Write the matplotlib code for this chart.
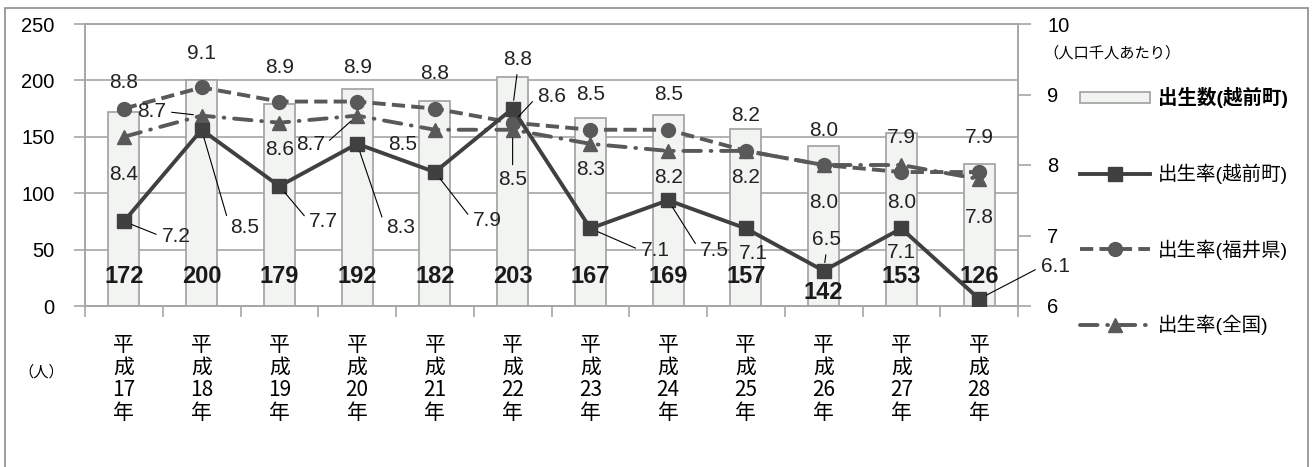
import matplotlib.pyplot as plt
from matplotlib.patches import Patch, Rectangle
from matplotlib.lines import Line2D

plt.rcParams['font.family'] = ['Liberation Sans', 'Noto Sans CJK JP', 'DejaVu Sans']

# data
years = ['17', '18', '19', '20', '21', '22', '23', '24', '25', '26', '27', '28']
births = [172, 200, 179, 192, 182, 203, 167, 169, 157, 142, 153, 126]
rate_town = [7.2, 8.5, 7.7, 8.3, 7.9, 8.8, 7.1, 7.5, 7.1, 6.5, 7.1, 6.1]
rate_pref = [8.8, 9.1, 8.9, 8.9, 8.8, 8.6, 8.5, 8.5, 8.2, 8.0, 7.9, 7.9]
rate_nation = [8.4, 8.7, 8.6, 8.7, 8.5, 8.5, 8.3, 8.2, 8.2, 8.0, 8.0, 7.8]

# label placement (pixel offsets from the marker, leader line yes/no)
off_pref = [(0, 26), (0, 34), (0, 34), (0, 34), (0, 35), (39, 26),
            (0, 35), (0, 35), (0, 35), (0, 35), (0, 35), (0, 35)]
lead_pref = [0, 0, 0, 0, 0, 1, 0, 0, 0, 0, 0, 0]
off_nation = [(0, -38), (-50, 4), (0, -27), (-47, -29), (-32, -15), (0, -50),
              (0, -26), (0, -27), (0, -27), (0, -37), (0, -37), (0, -38)]
lead_nation = [0, 1, 0, 1, 0, 1, 0, 0, 0, 0, 0, 0]
off_town = [(52, -15), (43, -98), (44, -35), (43, -84), (52, -48), (5, 49),
            (65, -22), (46, -50), (7, -25), (3, 31), (0, -24), (76, 32)]
lead_town = [1, 1, 1, 1, 1, 1, 1, 1, 0, 1, 0, 1]
count_y = [26, 26, 26, 26, 26, 26, 26, 26, 26, 12, 26, 26]

GRID = '#a6a6a6'
W, H = 1312, 467


def label_series(ax, vals, offsets, leaders):
    for i, (v, (dx, dy), ld) in enumerate(zip(vals, offsets, leaders)):
        kw = {}
        if ld:
            if abs(dx) > 20:
                rp = (0, 0.5) if dx > 0 else (1, 0.5)
            else:
                rp = (0.5, 0) if dy > 0 else (0.5, 1)
            kw['arrowprops'] = dict(arrowstyle='-', color='black', lw=0.8,
                                    shrinkA=2, shrinkB=6, relpos=rp)
        ax.annotate(f'{v:.1f}', (i, v), xytext=(dx, dy), textcoords='offset pixels',
                    ha='center', va='center', fontsize=15, color='#222222',
                    zorder=10, **kw)


fig = plt.figure(figsize=(W / 100, H / 100), dpi=100)
ax = fig.add_axes([85 / W, 1 - 306 / H, (1018 - 85) / W, (306 - 24) / H])
ax2 = ax.twinx()

x = list(range(len(years)))
ax.bar(x, births, width=0.4, color='#f2f4f2', edgecolor='#a0a0a0', lw=1.2, zorder=2)
ax.set_ylim(0, 250)
ax.set_xlim(-0.5, len(years) - 0.5)
ax.set_yticks(range(0, 251, 50))
ax.grid(axis='y', color=GRID, lw=1.2)
ax.set_axisbelow(True)
ax.set_xticks(x)
ax.set_xticklabels([f'平\n成\n{y}\n年' for y in years], fontsize=15, linespacing=1.05,
                   family=['Liberation Sans Narrow', 'Noto Sans CJK JP'], va='top')
ax.set_xticks([i - 0.5 for i in range(len(years) + 1)], minor=True)
ax.tick_params(axis='x', which='major', length=0, pad=20)
ax.tick_params(axis='x', which='minor', length=8, color=GRID, width=1.2)
ax.tick_params(axis='y', length=8, color=GRID, width=1.2, labelsize=14.5, pad=14)

for i, (c, cy) in enumerate(zip(births, count_y)):
    ax.text(i, cy, str(c), ha='center', va='center', fontsize=17, fontweight='bold',
            family=['Liberation Sans Narrow', 'Liberation Sans'], color='#1a1a1a', zorder=5)

ax2.plot(x, rate_pref, color='#595959', lw=2.8, ls=(0, (3.4, 1.6)), marker='o', ms=10, zorder=3)
ax2.plot(x, rate_nation, color='#595959', lw=2.8, ls=(0, (4.5, 2.5, 0.2, 2.5)),
         dash_capstyle='round', marker='^', ms=10, zorder=3)
ax2.plot(x, rate_town, color='#404040', lw=2.8, marker='s', ms=10, zorder=4)
ax2.set_ylim(6, 10)
ax2.set_yticks(range(6, 11))
ax2.tick_params(axis='y', length=9, color=GRID, width=1.2, labelsize=14.5, pad=12)

label_series(ax2, rate_pref, off_pref, lead_pref)
label_series(ax2, rate_nation, off_nation, lead_nation)
label_series(ax2, rate_town, off_town, lead_town)

for a in (ax, ax2):
    for s in a.spines.values():
        s.set_color(GRID)
        s.set_linewidth(1.2)

fig.text(1043 / W, 1 - 53 / H, '（人口千人あたり）', fontsize=11, va='center', ha='left')
fig.text(41 / W, 1 - 372 / H, '（人）', fontsize=11, va='center', ha='center')

handles = [
    Patch(facecolor='#f2f4f2', edgecolor='#a0a0a0', lw=1.2),
    Line2D([], [], color='#404040', lw=2.8, marker='s', ms=10),
    Line2D([], [], color='#595959', lw=2.8, ls=(0, (3.4, 1.6)), marker='o', ms=10),
    Line2D([], [], color='#595959', lw=2.8, ls=(0, (4.5, 2.5, 0.2, 2.5)),
           dash_capstyle='round', marker='^', ms=10),
]
labels = ['出生数(越前町)', '出生率(越前町)', '出生率(福井県)', '出生率(全国)']
leg = fig.legend(handles, labels, loc='upper left', bbox_to_anchor=(1080 / W, 1 - 87 / H),
                 frameon=False, fontsize=14, handlelength=3.6, handletextpad=0.4,
                 labelspacing=2.85, borderpad=0, borderaxespad=0, numpoints=1,
                 handleheight=0.5)
leg.get_texts()[0].set_fontweight('bold')

fig.patches.append(Rectangle((5 / W, -0.1), (1308 - 5) / W, 1.1 - 8 / H,
                             transform=fig.transFigure, fill=False,
                             edgecolor='#8c8c8c', lw=1.2))

fig.savefig('out.png', dpi=100)
